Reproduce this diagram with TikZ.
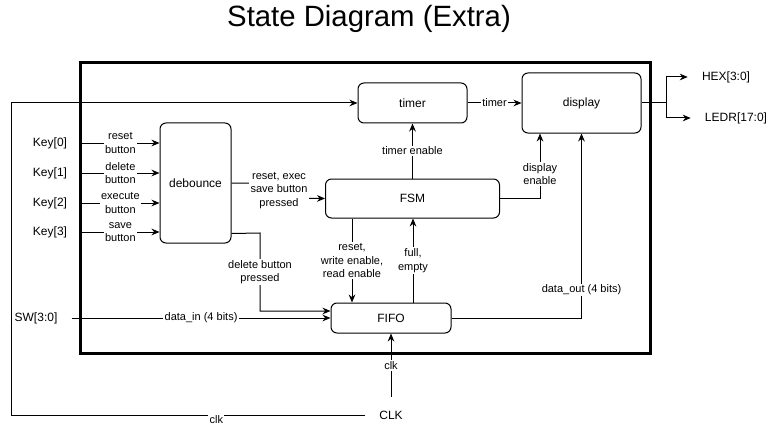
\documentclass[tikz,border=0pt]{standalone}
\usepackage{fontspec}
\setmainfont{Liberation Sans}
\usetikzlibrary{arrows.meta,positioning}

\begin{document}
\begin{tikzpicture}[x=0.75pt, y=-0.75pt,
    block/.style={rectangle, draw, rounded corners=4.5pt, line width=0.75pt, inner sep=0pt, font=\fontsize{9}{11}\selectfont},
    pin/.style={inner xsep=10.5pt, inner ysep=2pt, font=\fontsize{9}{11}\selectfont},
    lbl/.style={fill=white, inner sep=1pt, align=center, font=\fontsize{8.25}{10}\selectfont},
    wire/.style={line width=0.75pt, -{Stealth[length=6pt, width=5pt]}},
    link/.style={line width=0.75pt}]
    \useasboundingbox (0,0) rectangle (780,431);

    % Title
    \node [anchor=base, font=\fontsize{22}{26}\selectfont] (title) at (369,27) {State Diagram (Extra)};

    % Board boundary
    \draw [line width=2.25pt] (80,63) rectangle (650,353);

    % Blocks
    \node [block, minimum width=81.75pt, minimum height=30pt] (timer) at (412.5,103) {timer};
    \node [block, minimum width=89.25pt, minimum height=45pt, right=40.5pt of timer] (disp) {display};
    \node [block, minimum width=130.5pt, minimum height=29.25pt, below=41.25pt of timer] (fsm) {FSM};
    \node [block, minimum width=53.25pt, minimum height=90pt] (deb) at (195.5,183) {debounce};
    \node [block, minimum width=90pt, minimum height=22.5pt] (fifo) at (391,318) {FIFO};

    % Inputs and outputs
    \node [pin] (sw) at (36,318) {SW[3:0]};
    \node [pin, inner ysep=10.3pt] (clk) at (391,415) {CLK};
    \node [pin] (hex) at (726,77) {HEX[3:0]};
    \node [pin] (ledr) at (736,118) {LEDR[17:0]};

    % Keys into debounce
    \foreach \i/\y/\t in {0/143/reset, 1/173/delete, 2/203/execute, 3/232/save} {
        \node [pin] (key\i) at (50,\y) {Key[\i]};
        \draw [wire] (key\i.east) -- node[lbl] {\t\\button} (deb.west |- key\i.east);
    }

    % Debounce outputs
    \draw [wire] (deb.east) -- (279,183) -- node[lbl] {reset, exec\\save button\\pressed} (279,198) -- (fsm.west);
    \draw [wire] ([yshift=7.5pt]deb.south east) -- (260,233) -- node[lbl] {delete button\\pressed} (260,311) -- ([yshift=5.25pt]fifo.west);
    \draw [wire] (sw.east) -- node[lbl] {data\_in (4 bits)} (fifo.west);

    % FSM links
    \draw [wire] (fsm.north) -- node[lbl] {timer enable} (timer.south);
    \draw [wire] (fsm.east) -| node[lbl, pos=0.69] {display\\enable} ([xshift=-31.125pt]disp.south);
    \draw [wire] ([xshift=-45.375pt]fsm.south) -- node[lbl] {reset,\\write enable,\\read enable} ([xshift=-29.25pt]fifo.north);
    \draw [wire] ([xshift=16.5pt]fifo.north) -- node[lbl] {full,\\empty} ([xshift=16.5pt]fifo.north |- fsm.south);

    % Data path
    \draw [wire] (timer) -- node[lbl] {timer} (disp);
    \draw [wire] (fifo.east) -| node[lbl, pos=0.576] {data\_out (4 bits)} (disp.south);

    % Clock
    \draw [wire] (clk.north) -- node[lbl] {clk} (fifo.south);
    \draw [wire] (clk.west) -- node[lbl, pos=0.42, yshift=-3.75pt] {clk} (11,415) -- (11,103) -- (timer.west);

    % Display outputs
    \coordinate (split) at (666,103);
    \draw [link] (disp.east) -- (split);
    \draw [wire] (split) |- (hex.west);
    \draw [wire] (split) |- (ledr.west);
\end{tikzpicture}
\end{document}
